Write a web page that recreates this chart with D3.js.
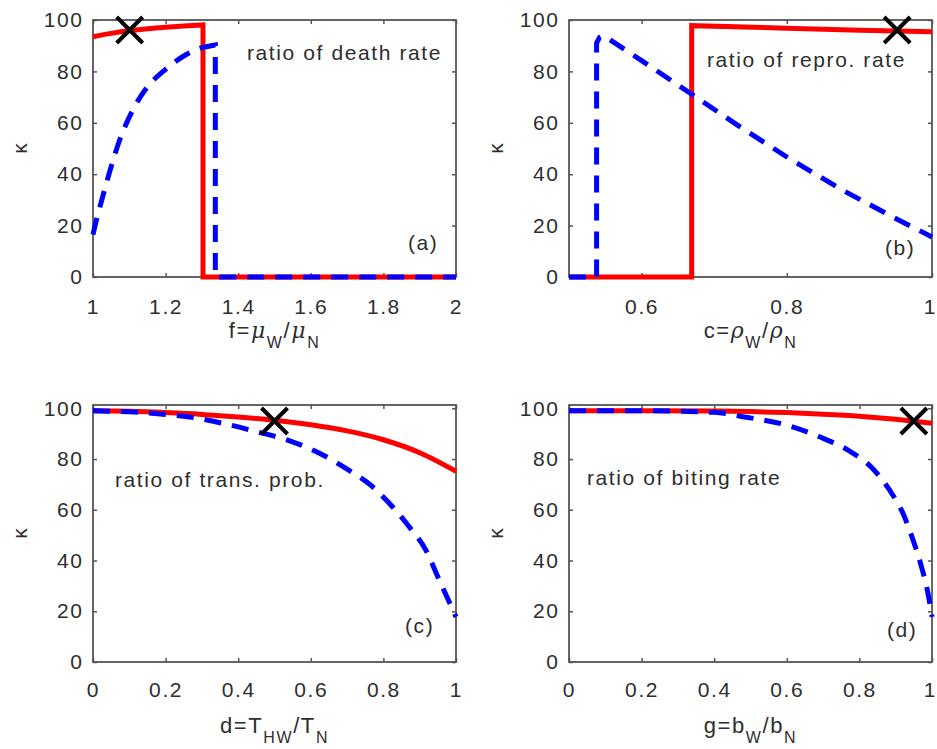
<!DOCTYPE html>
<html><head><meta charset="utf-8">
<script src="https://cdn.jsdelivr.net/npm/d3@7"></script>
<style>
body{margin:0;background:#fff;}
svg text{font-family:"Liberation Sans",Arial,Helvetica,sans-serif;fill:#2e2e2e;}
</style></head><body>
<svg id="chart" width="937" height="749"></svg>
<script>
// ---------------- data ----------------
const yTicks = [0, 20, 40, 60, 80, 100];
const xTicksA = [1, 1.2, 1.4, 1.6, 1.8, 2];
const xTicksB = [0.6, 0.8, 1];
const xTicksC = [0, 0.2, 0.4, 0.6, 0.8, 1];
const xTicksD = [0, 0.2, 0.4, 0.6, 0.8, 1];

// (a) ratio of death rate
const aRedX  = [1, 1.05, 1.1, 1.15, 1.2, 1.25, 1.303, 1.303, 1.5, 2];
const aRedY  = [93.5, 94.8, 95.8, 96.6, 97.2, 97.7, 98.1, 0, 0, 0];
const aBlueX = [1, 1.01, 1.023, 1.046, 1.074, 1.106, 1.147, 1.2, 1.25, 1.3, 1.337, 1.337, 1.5, 2];
const aBlueY = [16.5, 22.5, 29.3, 41, 53.5, 64, 73.4, 80.8, 86, 89.2, 90.3, 0, 0, 0];

// (b) ratio of repro. rate
const bRedX  = [0.5, 0.669, 0.669, 0.8, 0.9, 1];
const bRedY  = [0, 0, 97.8, 96.8, 96.0, 95.4];
const bBlueX = [0.5, 0.538, 0.538, 0.542, 0.548, 0.6, 0.667, 0.731, 0.805, 0.878, 0.947, 1];
const bBlueY = [0, 0, 91.0, 93.2, 93.9, 84.2, 71.5, 59.3, 45.8, 33.6, 23.2, 15.6];

// (c) ratio of trans. prob.
const cRedX  = [0, 0.1, 0.2, 0.3, 0.4, 0.5, 0.6, 0.7, 0.8, 0.9, 1];
const cRedY  = [99, 98.8, 98.3, 97.6, 96.6, 95.3, 93.5, 91.1, 87.6, 82.5, 75.2];
const cBlueX = [0, 0.1, 0.2, 0.3, 0.375, 0.45, 0.54, 0.624, 0.697, 0.77, 0.825, 0.871, 0.917, 0.954, 1];
const cBlueY = [99, 98.6, 97.6, 95.8, 93.5, 90.8, 87.3, 82.3, 76.3, 69.1, 61.2, 53.3, 44.1, 32.3, 17.8];

// (d) ratio of biting rate
const dRedX  = [0, 0.2, 0.4, 0.5, 0.6, 0.7, 0.8, 0.9, 1];
const dRedY  = [99, 99, 98.9, 98.7, 98.3, 97.7, 96.9, 95.7, 94.1];
const dBlueX = [0, 0.2, 0.4, 0.488, 0.598, 0.69, 0.773, 0.837, 0.883, 0.92, 0.948, 0.971, 0.989, 1];
const dBlueY = [99, 99, 98.4, 96.5, 93.4, 88.8, 83.1, 76.2, 67.8, 58.6, 48, 37.5, 27, 17.8];

// X markers
const markX = [1.101, 0.952, 0.5, 0.95];
const markY = [96.1, 96.1, 95, 95];

const notes = ["ratio of death rate", "ratio of repro. rate", "ratio of trans. prob.", "ratio of biting rate"];
const tags = ["(a)", "(b)", "(c)", "(d)"];
const xLabels = [
  [["f=", 0, 0], ["\u03BC", 0, 1], ["W", 1, 0], ["/", 0, 0], ["\u03BC", 0, 1], ["N", 1, 0]],
  [["c=", 0, 0], ["\u03C1", 0, 1], ["W", 1, 0], ["/", 0, 0], ["\u03C1", 0, 1], ["N", 1, 0]],
  [["d=T", 0, 0], ["HW", 1, 0], ["/T", 0, 0], ["N", 1, 0]],
  [["g=b", 0, 0], ["W", 1, 0], ["/b", 0, 0], ["N", 1, 0]]
];
const yLabel = "\u03BA";

// ---------------- layout ----------------
const svg = d3.select("#chart");
const panels = [
  {left:93, right:456, top:20, bottom:277, xDom:[1,2], yDom:[0,100], xt:xTicksA, smooth:true,
   rx:aRedX, ry:aRedY, bx:aBlueX, by:aBlueY, note:[247,60], tag:[408,250], xlabY:338, pad:22},
  {left:569, right:932, top:20, bottom:277, xDom:[0.5,1], yDom:[0,100], xt:xTicksB, smooth:false,
   rx:bRedX, ry:bRedY, bx:bBlueX, by:bBlueY, note:[707,67], tag:[885,255], xlabY:338, pad:22},
  {left:93, right:456, top:405, bottom:662, xDom:[0,1], yDom:[0,101.3], xt:xTicksC, smooth:true,
   rx:cRedX, ry:cRedY, bx:cBlueX, by:cBlueY, note:[115,487], tag:[405,633], xlabY:733, pad:20},
  {left:569, right:932, top:405, bottom:662, xDom:[0,1], yDom:[0,101.3], xt:xTicksD, smooth:true,
   rx:dRedX, ry:dRedY, bx:dBlueX, by:dBlueY, note:[587,485], tag:[887,637], xlabY:733, pad:20}
];

const axisColor = "#555";
const fontSize = 21, ls = "1.6px";

// smooth path that keeps vertical jumps (repeated x) sharp
function buildPath(xs, ys, x, y, smooth) {
  const segs = [];
  let cur = [];
  xs.forEach((v, k) => {
    if (k > 0 && v === xs[k - 1]) { segs.push(cur); cur = []; }
    cur.push([x(v), y(ys[k])]);
  });
  segs.push(cur);
  const gen = d3.line().curve(smooth ? d3.curveMonotoneX : d3.curveLinear);
  return segs.map((s, j) => {
    const d = s.length > 1 ? gen(s) : `M${s[0][0]},${s[0][1]}`;
    return j === 0 ? d : "L" + d.slice(1);
  }).join("");
}

panels.forEach((p, i) => {
  const x = d3.scaleLinear().domain(p.xDom).range([p.left, p.right]);
  const y = d3.scaleLinear().domain(p.yDom).range([p.bottom, p.top]);
  const g = svg.append("g");

  const styleAxis = sel => {
    sel.select(".domain").remove();
    sel.selectAll(".tick line").attr("stroke", axisColor).attr("stroke-width", 1.5);
    sel.selectAll("text").attr("fill", "#2e2e2e").style("font-size", fontSize + "px")
       .style("letter-spacing", ls).style("font-family", '"Liberation Sans",Arial,sans-serif');
  };
  const fmt = d => String(d);

  const xb = g.append("g").attr("transform", `translate(0,${p.bottom})`)
    .call(d3.axisBottom(x).tickValues(p.xt).tickSizeInner(-4).tickSizeOuter(0).tickPadding(p.pad).tickFormat(fmt))
    .call(styleAxis);
  if (p.right > 900) xb.selectAll(".tick text").filter(d => d === p.xDom[1]).attr("dx", "-2");
  g.append("g").attr("transform", `translate(0,${p.top})`)
    .call(d3.axisTop(x).tickValues(p.xt).tickSizeInner(-4).tickSizeOuter(0).tickFormat(""))
    .call(styleAxis);
  g.append("g").attr("transform", `translate(${p.left},0)`)
    .call(d3.axisLeft(y).tickValues(yTicks).tickSizeInner(-4).tickSizeOuter(0).tickPadding(9.5).tickFormat(fmt))
    .call(styleAxis);
  g.append("g").attr("transform", `translate(${p.right},0)`)
    .call(d3.axisRight(y).tickValues(yTicks).tickSizeInner(-4).tickSizeOuter(0).tickFormat(""))
    .call(styleAxis);

  g.append("rect").attr("x", p.left).attr("y", p.top)
    .attr("width", p.right - p.left).attr("height", p.bottom - p.top)
    .attr("fill", "none").attr("stroke", axisColor).attr("stroke-width", 1.8);

  // annotation
  g.append("text").attr("x", p.note[0]).attr("y", p.note[1])
    .style("font-size", fontSize + "px").style("letter-spacing", ls).text(notes[i]);
  g.append("text").attr("x", p.tag[0]).attr("y", p.tag[1])
    .style("font-size", fontSize + "px").style("letter-spacing", ls).text(tags[i]);

  // lines
  g.append("path").attr("d", buildPath(p.rx, p.ry, x, y, p.smooth)).attr("fill", "none")
    .attr("stroke", "#ff0000").attr("stroke-width", 5);
  g.append("path").attr("d", buildPath(p.bx, p.by, x, y, p.smooth)).attr("fill", "none")
    .attr("stroke", "#0000ff").attr("stroke-width", 5).attr("stroke-dasharray", "17,11");

  // X marker
  const mx = x(markX[i]), my = y(markY[i]), r = 13;
  g.append("path").attr("d", `M${mx-r},${my-r}L${mx+r},${my+r}M${mx-r},${my+r}L${mx+r},${my-r}`)
    .attr("stroke", "#000").attr("stroke-width", 4).attr("fill", "none");

  // x label
  const t = g.append("text").attr("x", (p.left + p.right) / 2).attr("y", p.xlabY)
    .attr("text-anchor", "middle").style("font-size", "22px").style("letter-spacing", "1.6px");
  let cur = 0;
  xLabels[i].forEach(([s, sub, greek]) => {
    const target = sub ? 10 : 0;
    const ts = t.append("tspan").attr("dy", target - cur).style("font-size", sub ? "16px" : "22px").text(s);
    if (greek) ts.style("font-style", "italic").style("font-family", '"DejaVu Serif",serif');
    cur = target;
  });

  // y label
  g.append("text").attr("text-anchor", "middle")
    .attr("transform", `translate(${p.left - 66},${(p.top + p.bottom) / 2}) rotate(-90)`)
    .style("font-size", "21px").text(yLabel);
});
</script>
</body></html>
